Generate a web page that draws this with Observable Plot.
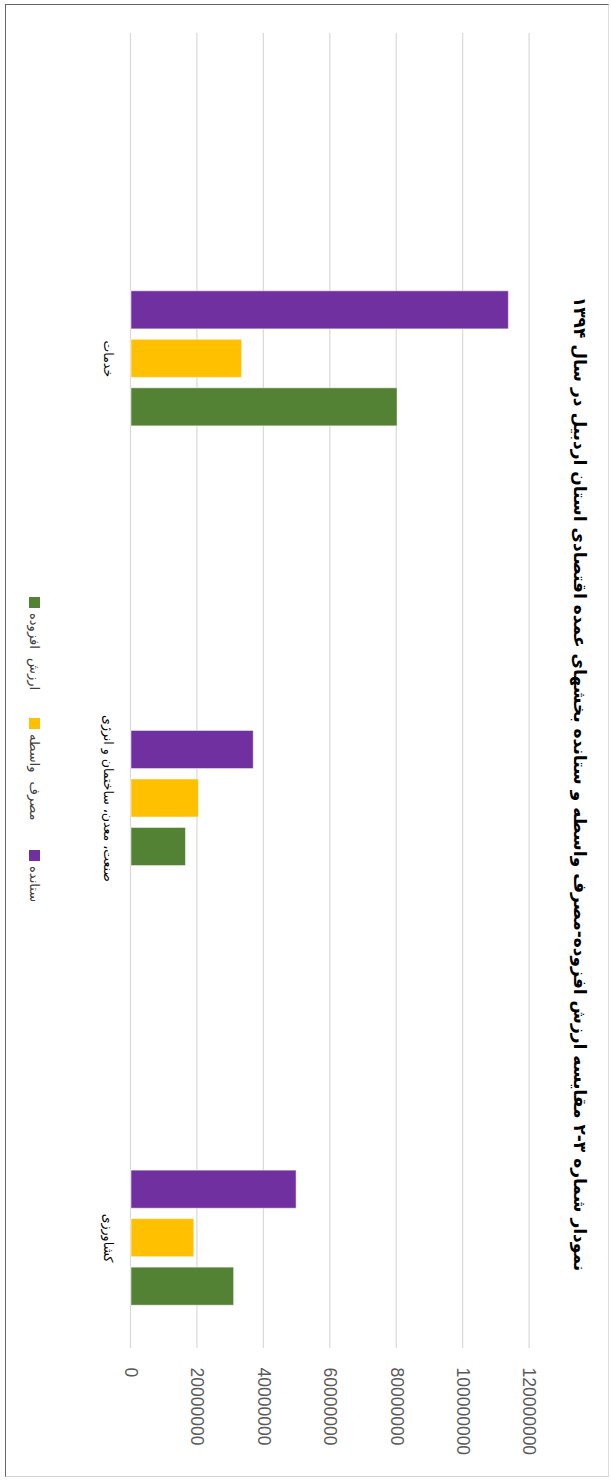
<!DOCTYPE html>
<html>
<head>
<meta charset="utf-8">
<script src="https://cdn.jsdelivr.net/npm/d3@7"></script>
<script src="https://cdn.jsdelivr.net/npm/@observablehq/plot@0.6"></script>
<style>
  html, body { margin: 0; padding: 0; background: #fff; width: 611px; height: 1481px; overflow: hidden; }
  #rot {
    position: absolute; left: 0; top: 0; width: 1481px; height: 611px;
    transform-origin: 0 0; transform: translate(611px, 0) rotate(90deg);
    font-family: "Liberation Sans", "DejaVu Sans", sans-serif; background: #fff;
  }
  #box {
    position: absolute; left: 4px; top: 2px; width: 1471px; height: 602px;
    border: 1.5px solid; border-color: #dcdcdc #d4d4d4 #666 #666;
  }
  #title {
    position: absolute; left: 0; top: 20px; width: 1568px; line-height: 22px;
    text-align: center; direction: rtl; font-family: "DejaVu Sans", sans-serif;
    font-weight: bold; font-size: 17px; color: #000;
  }
  #chart { position: absolute; left: 0; top: 60px; }
  #legend {
    position: absolute; left: 597px; top: 566px; height: 20px; display: flex; align-items: center;
    font-family: "DejaVu Sans", sans-serif; font-size: 13px; color: #404040; word-spacing: 5px;
  }
  .item { display: flex; align-items: center; gap: 5px; }
  .item:nth-child(1) { width: 121px; }
  .item:nth-child(2) { width: 132px; }
  .sw { width: 11px; height: 11px; display: inline-block; flex: none; }
  .lt { direction: rtl; }
</style>
</head>
<body>
<div id="rot">
  <div id="box"></div>
  <div id="title"></div>
  <div id="chart"></div>
  <div id="legend"></div>
</div>
<script>
// ---- data ----
const titleText = "نمودار شماره ۳-۲ مقایسه ارزش افزوده-مصرف واسطه و ستانده بخشهای عمده اقتصادی استان اردبیل در سال ۱۳۹۴";
const categories = ["خدمات", "صنعت، معدن، ساختمان و انرژی", "کشاورزی"];
const seriesNames = ["ستانده", "مصرف واسطه", "ارزش افزوده"];
const output = [113600000, 36800000, 49700000];        // ستانده
const intermediate = [33300000, 20300000, 18900000];   // مصرف واسطه
const valueAdded = [80100000, 16400000, 30900000];     // ارزش افزوده
const seriesColors = ["#7030A0", "#FFC000", "#548235"];
const yTicks = [0, 20000000, 40000000, 60000000, 80000000, 100000000, 120000000];
const legendOrder = ["ارزش افزوده", "مصرف واسطه", "ستانده"];

const seriesValues = [output, intermediate, valueAdded];
const offsets = [-48.5, 0, 48.5];

document.getElementById("title").textContent = titleText;

const barMarks = seriesValues.map((vals, i) =>
  Plot.barY(categories.map((c, j) => ({category: c, value: vals[j], series: seriesNames[i]})), {
    x: "category", y: "value", fill: seriesColors[i],
    stroke: "#ffffff", strokeOpacity: 0.5, strokeWidth: 1,
    insetLeft: 200.8, insetRight: 200.8, dx: offsets[i]
  })
);

const chart = Plot.plot({
  width: 1481, height: 480,
  marginLeft: 33, marginRight: 133, marginTop: 21.4, marginBottom: 60,
  style: {background: "transparent", fontFamily: "'Liberation Sans','DejaVu Sans',sans-serif"},
  x: {type: "band", domain: categories, paddingInner: 0, paddingOuter: 0, insetLeft: 105.5, insetRight: -109.5, round: false},
  y: {domain: [0, 120000000]},
  marks: [
    Plot.gridY(yTicks, {stroke: "#d9d9d9", strokeOpacity: 1, strokeWidth: 1.2}),
    Plot.axisY(yTicks, {anchor: "right", tickSize: 0, tickPadding: 19, tickFormat: d3.format("d"), fontSize: 17.5, color: "#595959", label: null}),
    Plot.axisX({anchor: "bottom", tickSize: 0, tickPadding: 18, fontSize: 12.5, color: "#000", label: null, fontFamily: "DejaVu Sans"}),
    ...barMarks
  ]
});
document.getElementById("chart").appendChild(chart);

const legend = document.getElementById("legend");
legendOrder.forEach(name => {
  const i = seriesNames.indexOf(name);
  const item = document.createElement("div");
  item.className = "item";
  const sw = document.createElement("span");
  sw.className = "sw"; sw.style.background = seriesColors[i];
  const t = document.createElement("span");
  t.className = "lt"; t.textContent = name;
  item.appendChild(sw); item.appendChild(t);
  legend.appendChild(item);
});
</script>
</body>
</html>
